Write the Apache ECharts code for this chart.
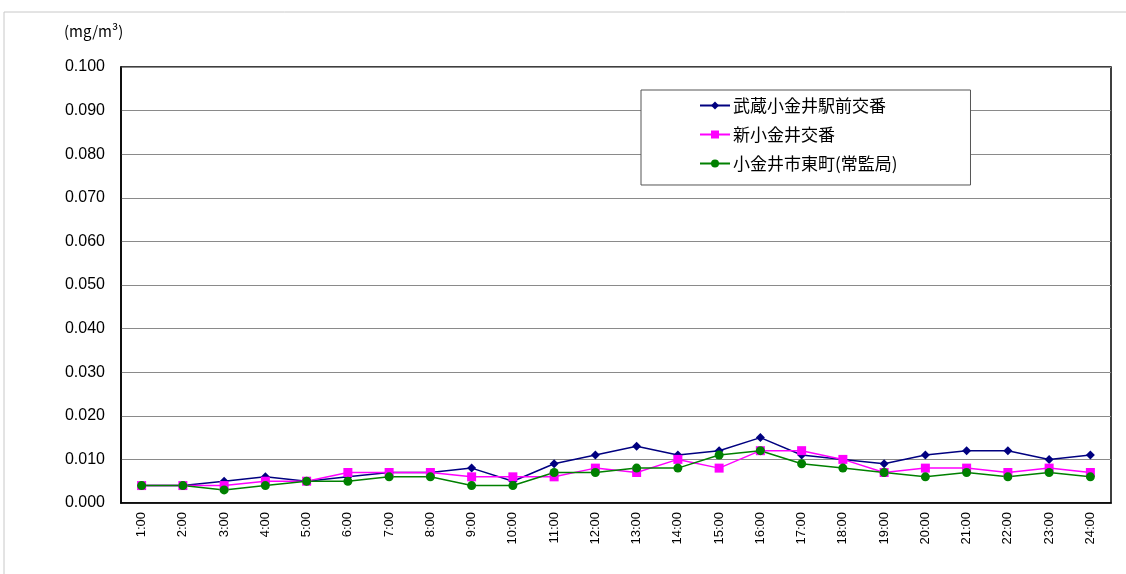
<!DOCTYPE html>
<html><head><meta charset="utf-8">
<script src="https://cdn.jsdelivr.net/npm/echarts@6/dist/echarts.min.js"></script>
<style>html,body{margin:0;padding:0;background:#fff}#c{width:1126px;height:574px}</style>
</head><body><div id="c"></div>
<script>
var categories = ['1:00','2:00','3:00','4:00','5:00','6:00','7:00','8:00','9:00','10:00','11:00','12:00','13:00','14:00','15:00','16:00','17:00','18:00','19:00','20:00','21:00','22:00','23:00','24:00'];
var musashi = [0.004,0.004,0.005,0.006,0.005,0.006,0.007,0.007,0.008,0.005,0.009,0.011,0.013,0.011,0.012,0.015,0.011,0.010,0.009,0.011,0.012,0.012,0.010,0.011];
var shin = [0.004,0.004,0.004,0.005,0.005,0.007,0.007,0.007,0.006,0.006,0.006,0.008,0.007,0.010,0.008,0.012,0.012,0.010,0.007,0.008,0.008,0.007,0.008,0.007];
var higashi = [0.004,0.004,0.003,0.004,0.005,0.005,0.006,0.006,0.004,0.004,0.007,0.007,0.008,0.008,0.011,0.012,0.009,0.008,0.007,0.006,0.007,0.006,0.007,0.006];
var seriesNames = ['武蔵小金井駅前交番','新小金井交番','小金井市東町(常監局)'];
var yTitle = '(mg/m³)';

var chart = echarts.init(document.getElementById('c'), null, {renderer:'canvas'});
var lbl = {fontFamily:'Liberation Sans, Arial, sans-serif', color:'#000'};
chart.setOption({
  animation:false,
  backgroundColor:'#fff',
  graphic:[
    {type:'line', shape:{x1:4,y1:12,x2:1126,y2:12}, style:{stroke:'#c8c8c8',lineWidth:1}},
    {type:'line', shape:{x1:4,y1:12,x2:4,y2:574}, style:{stroke:'#c8c8c8',lineWidth:1}},
    {type:'text', left:64, top:24, style:{text:yTitle, font:'15px "Noto Sans CJK JP", sans-serif', fill:'#000'}}
  ],
  legend:{
    orient:'vertical', left:641, top:90,
    padding:[7,73,13,58], itemGap:12, itemWidth:30, itemHeight:10,
    backgroundColor:'#fff', borderColor:'#555', borderWidth:1,
    textStyle:{fontFamily:'"Noto Sans CJK JP", sans-serif', fontSize:17, color:'#000', padding:[0,0,0,-2]},
    data:seriesNames
  },
  grid:{left:121, right:15, top:67, bottom:71, show:true, borderColor:'#000', borderWidth:1.5, backgroundColor:'transparent'},
  xAxis:{
    type:'category', data:categories, boundaryGap:true,
    axisLine:{show:true, lineStyle:{color:'#000', width:1.5}},
    axisTick:{show:false},
    axisLabel:Object.assign({rotate:90, fontSize:13, margin:9, interval:0}, lbl)
  },
  yAxis:{
    type:'value', min:0, max:0.1, interval:0.01,
    axisLine:{show:true, lineStyle:{color:'#000', width:1.5}},
    axisTick:{show:false},
    splitLine:{show:true, lineStyle:{color:'#8a8a8a', width:1}},
    axisLabel:Object.assign({fontSize:16, margin:16, formatter:function(v){return v.toFixed(3);}}, lbl)
  },
  series:[
    {name:seriesNames[0], type:'line', data:musashi, symbol:'diamond', symbolSize:9,
     lineStyle:{color:'#000080', width:1.5}, itemStyle:{color:'#000080'}},
    {name:seriesNames[1], type:'line', data:shin, symbol:'rect', symbolSize:9,
     lineStyle:{color:'#ff00ff', width:1.5}, itemStyle:{color:'#ff00ff'}},
    {name:seriesNames[2], type:'line', data:higashi, symbol:'circle', symbolSize:9,
     lineStyle:{color:'#008000', width:1.5}, itemStyle:{color:'#008000'}}
  ]
});
</script></body></html>
